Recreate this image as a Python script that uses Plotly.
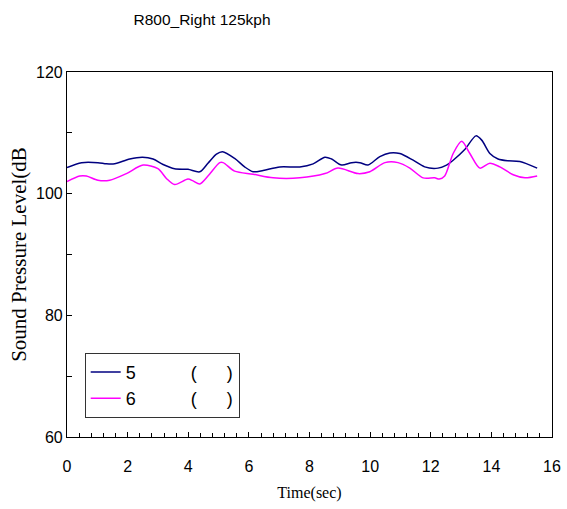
import plotly.graph_objects as go

# Series 5 (navy)
t5 = [0, 0.48, 1.02, 1.3, 1.57, 2.07, 2.49, 2.84, 3.17, 3.55, 3.99, 4.38, 4.65, 4.93,
      5.13, 5.53, 5.86, 6.14, 6.47, 7.02, 7.68, 8.12, 8.51, 8.73, 9.06, 9.39, 9.66,
      9.93, 10.32, 10.65, 10.98, 11.42, 11.8, 12.24, 12.52, 12.74, 13.13, 13.49, 13.68,
      13.95, 14.22, 14.55, 14.94, 15.51]
v5 = [104.3, 105.1, 105.1, 104.9, 104.9, 105.7, 106.0, 105.7, 104.8, 104.1, 104.0, 103.6,
      105.0, 106.5, 106.9, 105.8, 104.4, 103.6, 103.8, 104.4, 104.4, 104.9, 106.0, 105.7,
      104.7, 105.1, 105.1, 104.7, 106.1, 106.7, 106.6, 105.5, 104.4, 104.2, 104.7, 105.5,
      107.3, 109.5, 108.8, 106.6, 105.7, 105.4, 105.3, 104.2]

# Series 6 (magenta)
t6 = [0, 0.42, 0.64, 1.02, 1.41, 1.96, 2.51, 3.0, 3.28, 3.55, 3.99, 4.16, 4.38, 4.65,
      5.04, 5.15, 5.53, 6.14, 6.8, 7.68, 8.51, 8.94, 9.6, 9.99, 10.49, 10.92, 11.31,
      11.75, 12.13, 12.28, 12.46, 12.74, 13.02, 13.29, 13.62, 13.95, 14.28, 14.72, 15.11,
      15.51]
v6 = [102.0, 102.9, 102.9, 102.2, 102.2, 103.3, 104.7, 104.1, 102.5, 101.5, 102.4, 102.1,
      101.6, 102.9, 105.1, 105.1, 103.7, 103.2, 102.6, 102.6, 103.3, 104.2, 103.3, 103.6,
      105.1, 105.1, 104.2, 102.6, 102.6, 102.4, 102.9, 106.6, 108.6, 106.6, 104.2, 105.0,
      104.4, 103.1, 102.6, 102.9]

y_tickvals = [60, 70, 80, 90, 100, 110, 120]
y_ticktext = ["60", "", "80", "", "100", "", "120"]
x_tickvals = [0, 2, 4, 6, 8, 10, 12, 14, 16]

NB = "\u00a0"
name5 = "5" + NB * 11 + "(" + NB * 6 + ")"
name6 = "6" + NB * 11 + "(" + NB * 6 + ")"

fig = go.Figure()
fig.add_trace(go.Scatter(x=t5, y=v5, mode="lines", name=name5,
                         line=dict(color="#000080", width=1.5, shape="spline", smoothing=0.8)))
fig.add_trace(go.Scatter(x=t6, y=v6, mode="lines", name=name6,
                         line=dict(color="#FF00FF", width=1.5, shape="spline", smoothing=0.8)))

sans = "Liberation Sans, Arial, sans-serif"
serif = "Liberation Serif, Times New Roman, serif"

fig.update_layout(
    width=567, height=509,
    margin=dict(l=67, r=15, t=72, b=72, autoexpand=False),
    paper_bgcolor="white", plot_bgcolor="white",
    title=dict(text="R800_Right 125kph", x=202 / 567, xanchor="center",
               y=1 - 20 / 509, yanchor="middle",
               font=dict(family="Liberation Sans Narrow, Liberation Sans, Arial", size=15.5, color="black")),
    showlegend=True,
    legend=dict(x=0.0365, y=0.231, xanchor="left", yanchor="top",
                bordercolor="#333333", borderwidth=1, bgcolor="white",
                font=dict(family=sans, size=18, color="black"),
                itemwidth=30, tracegroupgap=0),
    xaxis=dict(range=[0, 16], tickvals=x_tickvals, ticks="inside", ticklen=5,
               tickcolor="black", tickwidth=1,
               minor=dict(dtick=0.4, tick0=0, ticks="inside", ticklen=4, tickcolor="black"),
               showline=True, linecolor="black", linewidth=1.2, mirror=True,
               showgrid=False, zeroline=False,
               tickfont=dict(family=sans, size=16, color="black"),
               ticklabelstandoff=15,
               title=dict(text="Time(sec)", font=dict(family=serif, size=16, color="black"),
                          standoff=12)),
    yaxis=dict(range=[60, 120], tickvals=y_tickvals, ticktext=y_ticktext,
               ticks="inside", ticklen=5, tickcolor="black", tickwidth=1,
               showline=True, linecolor="black", linewidth=1.2, mirror=True,
               showgrid=False, zeroline=False,
               tickfont=dict(family=sans, size=16, color="black"),
               title=dict(text="Sound Pressure Level(dB", font=dict(family=serif, size=21, color="black"),
                          standoff=3)),
)

fig.write_html("out.html", config={"displayModeBar": False},
               post_script="document.body.style.margin='0';")
